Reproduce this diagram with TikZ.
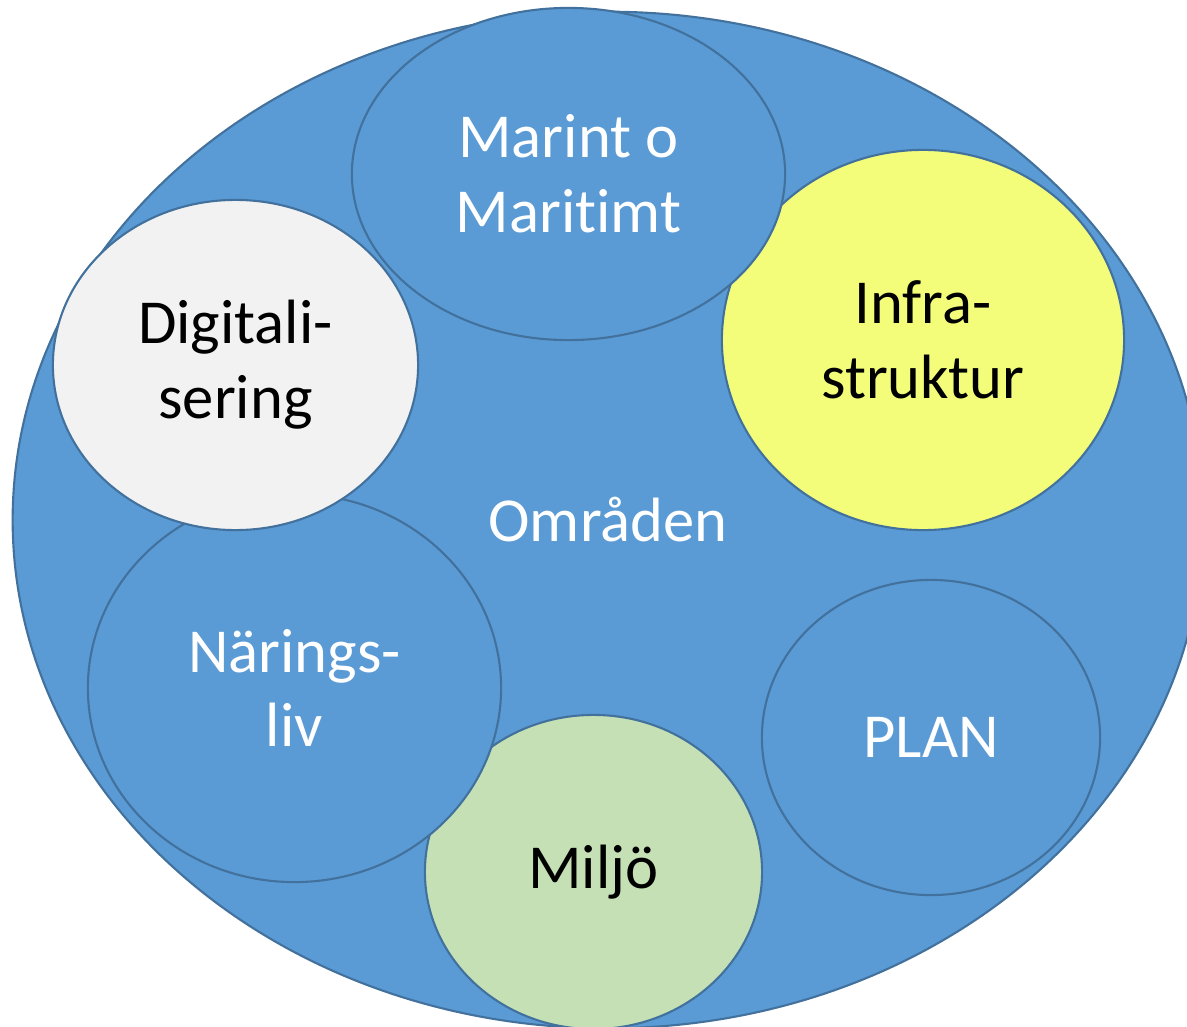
\documentclass[tikz,border=0pt]{standalone}
\usepackage{fontspec}
\setmainfont{Carlito}[Ligatures=NoCommon]
\usetikzlibrary{shapes.geometric}
\definecolor{omradeblue}{HTML}{5B9BD5}
\definecolor{omradeedge}{HTML}{41719C}
\definecolor{infrayellow}{HTML}{F3FD7A}
\definecolor{digigray}{HTML}{F2F2F2}
\definecolor{miljogreen}{HTML}{C5E0B4}
\tikzset{
    omrade/.style={
        ellipse,
        draw=omradeedge,
        line width=0.6pt,
        inner sep=0pt,
        align=center,
        font=\fontsize{17.8pt}{21.3pt}\selectfont,
        fill=#1
    },
    light/.style={
        text=white
    }
}

\begin{document}
\begin{tikzpicture}[x=0.01cm, y=-0.01cm]
    \useasboundingbox (0,0) rectangle (1187,1027);
    \node[omrade=omradeblue, light, minimum width=11.90cm, minimum height=10.16cm] (omraden)    at (608,520)     {Områden};
    \node[omrade=infrayellow,       minimum width=4.02cm,  minimum height=3.80cm]  (infra)      at (923,340)     {Infra-\\struktur};
    \node[omrade=omradeblue, light, minimum width=4.33cm,  minimum height=3.32cm]  (marint)     at (568.5,174)   {Marint o\\Maritimt};
    \node[omrade=miljogreen,        minimum width=3.37cm,  minimum height=3.14cm]  (miljo)      at (593.5,872)   {Miljö};
    \node[omrade=omradeblue, light, minimum width=4.13cm,  minimum height=3.88cm]  (naringsliv) at (294.5,688)   {Närings-\\liv};
    \node[omrade=digigray,          minimum width=3.65cm,  minimum height=3.30cm]  (digital)    at (235.5,365)   {Digitali-\\sering};
    \node[omrade=omradeblue, light, minimum width=3.38cm,  minimum height=3.15cm]  (plan)       at (931,737.5)   {PLAN};
\end{tikzpicture}
\end{document}
